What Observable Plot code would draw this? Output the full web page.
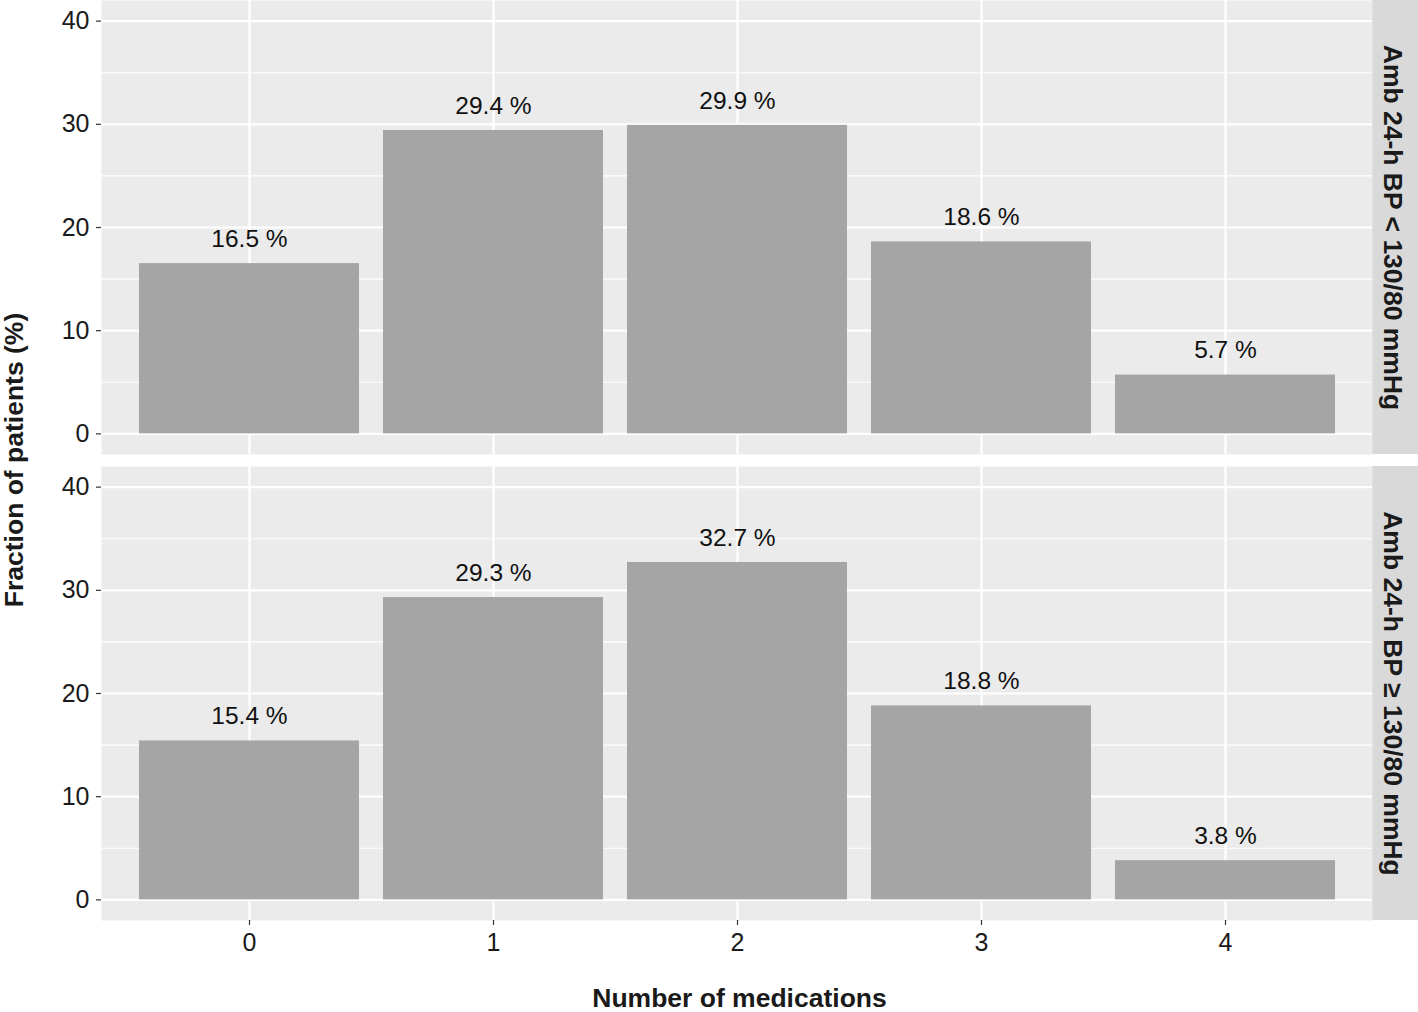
<!DOCTYPE html>
<html>
<head>
<meta charset="utf-8">
<script src="https://cdn.jsdelivr.net/npm/d3@7"></script>
<script src="https://cdn.jsdelivr.net/npm/@observablehq/plot@0.6"></script>
<style>
  html, body { margin: 0; padding: 0; background: white; }
  #chart svg { display: block; }
</style>
</head>
<body>
<div id="chart"></div>
<script>
// ---- data ----
const groups = ["Amb 24-h BP < 130/80 mmHg", "Amb 24-h BP \u2265 130/80 mmHg"];
const medications = ["0", "1", "2", "3", "4"];
const valuesBelow = [16.5, 29.4, 29.9, 18.6, 5.7];
const valuesAbove = [15.4, 29.3, 32.7, 18.8, 3.8];
const majorTicks = [0, 10, 20, 30, 40];
const minorTicks = [5, 15, 25, 35];
const xTitle = "Number of medications";
const yTitle = "Fraction of patients (%)";

const seriesValues = [valuesBelow, valuesAbove];
const table = groups.flatMap((g, gi) =>
  medications.map((m, mi) => ({group: g, med: m, value: seriesValues[gi][mi]}))
);

const FONT = "'Liberation Sans', Arial, Helvetica, sans-serif";
const W = 1418, H = 1012;
const mL = 101, mR = 46, mT = 0, mB = 92;

const chart = Plot.plot({
  width: W,
  height: H,
  marginLeft: mL,
  marginRight: mR,
  marginTop: mT,
  marginBottom: mB,
  style: {fontFamily: FONT, fontSize: "24.5px", background: "white", overflow: "visible", color: "#1a1a1a"},
  x: {type: "band", domain: medications, paddingInner: 0.1, paddingOuter: 0.15, align: 0.5, axis: null},
  y: {domain: [-2, 42], axis: null},
  fy: {domain: groups, paddingInner: 12 / 466, paddingOuter: 0, axis: null},
  marks: [
    Plot.frame({fill: "#EBEBEB", stroke: null}),
    Plot.gridY(minorTicks, {stroke: "white", strokeOpacity: 1, strokeWidth: 1.1}),
    Plot.gridY(majorTicks, {stroke: "white", strokeOpacity: 1, strokeWidth: 2.2}),
    Plot.gridX(medications, {stroke: "white", strokeOpacity: 1, strokeWidth: 2.2}),
    Plot.barY(table, {x: "med", y: "value", fy: "group", fill: "#A5A5A5"}),
    Plot.text(table, {
      x: "med", y: "value", fy: "group",
      text: d => d.value.toFixed(1) + " %",
      lineAnchor: "middle", dy: -24.5, fontSize: 24.5, fill: "#111"
    }),
    Plot.axisY(majorTicks, {
      anchor: "left", tickSize: 5, tickPadding: 7, stroke: "#333", strokeWidth: 1.2,
      fill: "#1a1a1a", fontSize: 25, label: null
    }),
    Plot.axisX(medications, {
      anchor: "bottom", tickSize: 5, tickPadding: 8, stroke: "#333", strokeWidth: 1.2,
      fill: "#1a1a1a", fontSize: 25, label: null
    }),
    Plot.text(groups, {
      fy: d => d, text: d => d, frameAnchor: "right", dx: 20, rotate: 90,
      textAnchor: "middle", lineAnchor: "middle",
      fontSize: 26.5, fontWeight: "bold", fill: "#1a1a1a"
    })
  ]
});

document.getElementById("chart").appendChild(chart);

// strip backgrounds (behind everything), placed with the fy scale
const svg = d3.select(chart.tagName.toLowerCase() === "svg" ? chart : chart.querySelector("svg"));
const fy = chart.scale("fy");
let bw = fy.bandwidth;
if (bw == null) {
  const [r0, r1] = fy.range;
  const n = groups.length, p = fy.paddingInner ?? 0;
  const step = (r1 - r0) / (n - p);
  bw = step * (1 - p);
}
groups.forEach(g => {
  const y0 = fy.apply(g);
  svg.insert("rect", ":first-child")
    .attr("x", W - mR).attr("y", y0)
    .attr("width", mR).attr("height", bw)
    .attr("fill", "#D9D9D9");
});

// axis titles
svg.append("text")
  .attr("x", (mL + W - mR) / 2 + 3)
  .attr("y", H - 5)
  .attr("text-anchor", "middle")
  .attr("font-family", FONT)
  .attr("font-size", 26.5)
  .attr("font-weight", "bold")
  .attr("fill", "#1a1a1a")
  .text(xTitle);

svg.append("text")
  .attr("transform", `translate(23,${(mT + H - mB) / 2}) rotate(-90)`)
  .attr("text-anchor", "middle")
  .attr("font-family", FONT)
  .attr("font-size", 26.5)
  .attr("font-weight", "bold")
  .attr("fill", "#1a1a1a")
  .text(yTitle);
</script>
</body>
</html>
